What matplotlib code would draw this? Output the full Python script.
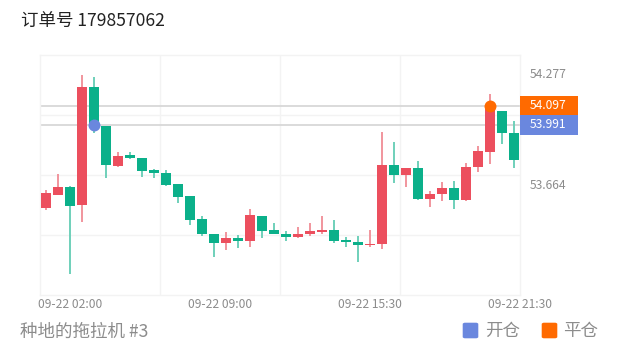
import matplotlib
matplotlib.use("Agg")
import matplotlib.pyplot as plt
from matplotlib.patches import Rectangle, FancyBboxPatch
import matplotlib.transforms as mtransforms

plt.rcParams['font.family'] = ['Noto Sans CJK SC', 'DejaVu Sans']

# ---------------- data ----------------
opens  = [53.537, 53.607, 53.652, 53.552, 54.201, 53.987, 53.768, 53.824, 53.812, 53.744,
          53.726, 53.665, 53.601, 53.473, 53.394, 53.341, 53.372, 53.354, 53.493, 53.412,
          53.392, 53.376, 53.390, 53.401, 53.412, 53.361, 53.350, 53.330, 53.337, 53.771,
          53.716, 53.757, 53.585, 53.610, 53.643, 53.577, 53.760, 53.841, 54.070, 53.949]
closes = [53.616, 53.652, 53.546, 54.201, 53.976, 53.771, 53.821, 53.810, 53.740, 53.726,
          53.661, 53.597, 53.467, 53.390, 53.341, 53.372, 53.356, 53.497, 53.409, 53.392,
          53.378, 53.390, 53.409, 53.412, 53.354, 53.348, 53.330, 53.337, 53.771, 53.716,
          53.757, 53.583, 53.614, 53.643, 53.577, 53.762, 53.848, 54.092, 53.945, 53.799]
highs  = [53.634, 53.720, 53.654, 54.266, 54.256, 53.987, 53.845, 53.845, 53.812, 53.749,
          53.744, 53.665, 53.601, 53.493, 53.394, 53.401, 53.387, 53.530, 53.493, 53.453,
          53.411, 53.429, 53.451, 53.493, 53.471, 53.378, 53.383, 53.416, 53.951, 53.896,
          53.757, 53.793, 53.628, 53.676, 53.685, 53.780, 53.876, 54.161, 54.070, 54.013]
lows   = [53.524, 53.605, 53.171, 53.456, 53.945, 53.698, 53.758, 53.802, 53.704, 53.698,
          53.658, 53.561, 53.442, 53.383, 53.268, 53.304, 53.314, 53.323, 53.369, 53.390,
          53.354, 53.369, 53.383, 53.394, 53.341, 53.323, 53.237, 53.323, 53.308, 53.671,
          53.652, 53.577, 53.539, 53.575, 53.528, 53.574, 53.731, 53.775, 53.885, 53.753]

tick_positions = [2, 14.5, 27, 39.5]
tick_labels = ["09-22 02:00", "09-22 09:00", "09-22 15:30", "09-22 21:30"]

ytick_values = [54.277, 53.664]

open_idx, open_price = 4, 53.991      # 开仓
close_idx, close_price = 37, 54.097   # 平仓

title = "订单号 179857062"
footer = "种地的拖拉机 #3"
legend_labels = ["开仓", "平仓"]

# ---------------- style ----------------
W, H = 620, 352
UP = "#ec4f5e"
DOWN = "#0bb08a"
UP_WICK = "#f1959d"
DOWN_WICK = "#6fd0ba"
BLUE = "#6a87de"
ORANGE = "#ff6a00"
GRID = "#f3f3f3"
LABEL = "#8c8c8c"

fig = plt.figure(figsize=(W / 100, H / 100), dpi=100)
fig.patch.set_facecolor("white")

def fx(px):
    return px / W

def fy(py):
    return 1 - py / H

ax_left, ax_right, ax_top, ax_bot = 40, 520, 55, 295
ax = fig.add_axes([fx(ax_left), fy(ax_bot), (ax_right - ax_left) / W, (ax_bot - ax_top) / H])
ax.set_xlim(-0.5, len(opens) - 0.5)
ax.set_ylim(53.057, 54.375)

for s in ax.spines.values():
    s.set_color(GRID)
    s.set_linewidth(1)

# grid (equally spaced in the frame)
for f in (0.25, 0.5, 0.75):
    ax.plot([0, 1], [f, f], transform=ax.transAxes, color=GRID, lw=1, zorder=0)
    ax.plot([f, f], [0, 1], transform=ax.transAxes, color=GRID, lw=1, zorder=0)

# reference price lines
for p in (close_price, open_price):
    ax.axhline(p, color="#dadada", lw=1.4, zorder=1)

# candles
width = 0.76
for i, (o, h, l, c) in enumerate(zip(opens, highs, lows, closes)):
    up = c >= o
    ax.vlines(i, l, h, color=UP_WICK if up else DOWN_WICK, lw=1.4, zorder=2)
    bottom = min(o, c)
    height = max(abs(c - o), 0.007)
    ax.bar(i, height, width=width, bottom=bottom, color=UP if up else DOWN,
           edgecolor="none", zorder=3)

# trade markers
ax.plot([open_idx], [open_price], "o", color=BLUE, ms=8.6, mec="none", zorder=5)
ax.plot([close_idx], [close_price], "o", color=ORANGE, ms=8.6, mec="none", zorder=5)

# axes ticks
ax.yaxis.tick_right()
ax.set_yticks(ytick_values)
ax.set_yticklabels([f"{v:.3f}" for v in ytick_values])
ax.tick_params(axis="y", length=0, pad=7.2, labelsize=8.7, labelcolor=LABEL)
ax.set_xticks(tick_positions)
ax.set_xticklabels(tick_labels)
ax.tick_params(axis="x", length=0, pad=2, labelsize=8.7, labelcolor=LABEL)

# price tags on the right
trans = mtransforms.blended_transform_factory(ax.transAxes, ax.transData)
box_w = 58 / (ax_right - ax_left)
half_h = 0.053
for p, col in ((close_price, ORANGE), (open_price, BLUE)):
    ax.add_patch(Rectangle((1.0, p - half_h), box_w, 2 * half_h, transform=trans,
                           facecolor=col, edgecolor="none", clip_on=False, zorder=6))
    ax.text(1.0 + 10 / (ax_right - ax_left), p, f"{p:.3f}", transform=trans,
            color="white", fontsize=8.7, va="center", ha="left", clip_on=False, zorder=7)

# title and footer
fig.text(fx(21), fy(21), title, fontsize=12.6, color="#222222", va="center", ha="left")
fig.text(fx(20), fy(332), footer, fontsize=12.6, color=LABEL, va="center", ha="left")

# legend
for (sx, tx, col, lab) in ((462.7, 485, BLUE, legend_labels[0]),
                           (541.7, 563.5, ORANGE, legend_labels[1])):
    fig.patches.append(FancyBboxPatch((fx(sx), fy(338.3)), 15.6 / W, 15.6 / H,
                                      boxstyle="round,pad=0,rounding_size=0.004",
                                      transform=fig.transFigure, facecolor=col,
                                      edgecolor="none"))
    fig.text(fx(tx), fy(331), lab, fontsize=12.6, color=LABEL, va="center", ha="left")

fig.savefig("out.png", dpi=100, facecolor="white")
